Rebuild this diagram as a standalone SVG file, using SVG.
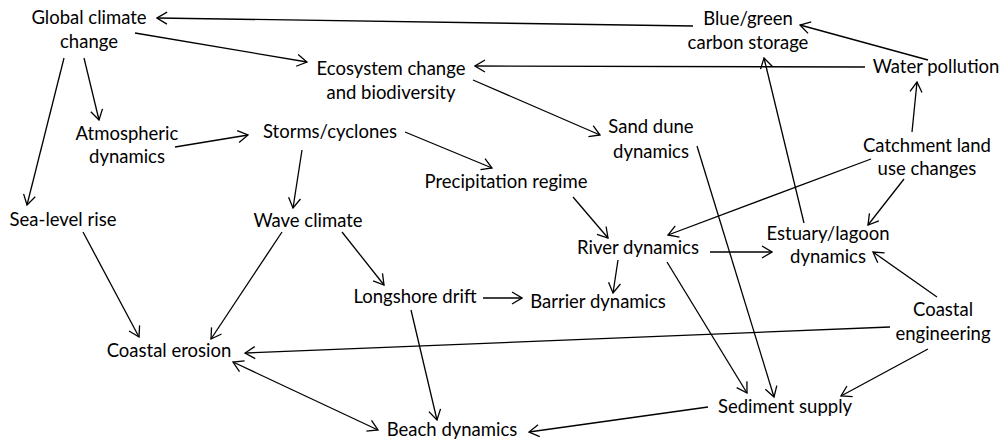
<svg xmlns="http://www.w3.org/2000/svg" width="1006" height="442" viewBox="0 0 1006 442">
<style>
text{font-family:"Lato","Liberation Sans",sans-serif;font-size:18.5px;fill:#000;text-anchor:middle}
.c line{stroke:#000;stroke-width:1.3;fill:none;marker-end:url(#ah)}
.c line.bi{marker-start:url(#ah)}
</style>
<defs>
<marker id="ah" viewBox="0 0 12 14" refX="11" refY="7" markerWidth="12" markerHeight="14" markerUnits="userSpaceOnUse" orient="auto-start-reverse">
<path d="M1,1 L11,7 L1,13" fill="none" stroke="#000" stroke-width="1.3"/>
</marker>
</defs>
<rect width="1006" height="442" fill="#fff"/>
<g class="c" id="connectors">
<line x1="693" y1="26" x2="157" y2="18"/>
<line x1="135" y1="33" x2="307" y2="62"/>
<line x1="84" y1="58" x2="99" y2="120"/>
<line x1="64" y1="58" x2="27" y2="205"/>
<line x1="175" y1="147" x2="248" y2="135"/>
<line x1="302" y1="150" x2="293" y2="208"/>
<line x1="405" y1="132" x2="492" y2="168"/>
<line x1="473" y1="80" x2="600" y2="135"/>
<line x1="865" y1="67" x2="475" y2="66"/>
<line x1="928" y1="60" x2="800" y2="25"/>
<line x1="912" y1="132" x2="917" y2="82"/>
<line x1="804" y1="223" x2="764" y2="58"/>
<line x1="697" y1="146" x2="774" y2="397"/>
<line x1="667" y1="262" x2="747" y2="393"/>
<line x1="871" y1="159" x2="668" y2="235"/>
<line x1="904" y1="179" x2="868" y2="225"/>
<line x1="710" y1="252" x2="772" y2="252"/>
<line x1="937" y1="297" x2="873" y2="252"/>
<line x1="573" y1="197" x2="608" y2="238"/>
<line x1="618" y1="260" x2="613" y2="293"/>
<line x1="483" y1="298" x2="522" y2="298"/>
<line x1="342" y1="232" x2="384" y2="285"/>
<line x1="282" y1="232" x2="211" y2="339"/>
<line x1="83" y1="232" x2="139" y2="337"/>
<line x1="890" y1="327" x2="245" y2="353"/>
<line class="bi" x1="233" y1="362" x2="378" y2="430"/>
<line x1="411" y1="310" x2="437" y2="420"/>
<line x1="708" y1="407" x2="529" y2="432"/>
<line x1="928" y1="349" x2="841" y2="396"/>
</g>
<g id="global-climate-change"><text x="89" y="24">Global climate</text><text x="89" y="48">change</text></g>
<g id="ecosystem-change"><text x="391" y="75">Ecosystem change</text><text x="391" y="99">and biodiversity</text></g>
<g id="blue-green-carbon"><text x="748" y="25">Blue/green</text><text x="748" y="49">carbon storage</text></g>
<g id="water-pollution"><text x="936" y="73">Water pollution</text></g>
<g id="catchment"><text x="927" y="152">Catchment land</text><text x="927" y="175">use changes</text></g>
<g id="atmospheric"><text x="127" y="140">Atmospheric</text><text x="127" y="163">dynamics</text></g>
<g id="storms"><text x="330" y="138">Storms/cyclones</text></g>
<g id="sand-dune"><text x="651" y="133">Sand dune</text><text x="651" y="158">dynamics</text></g>
<g id="precipitation"><text x="506" y="188">Precipitation regime</text></g>
<g id="sea-level"><text x="63" y="226">Sea-level rise</text></g>
<g id="wave-climate"><text x="308" y="227">Wave climate</text></g>
<g id="river"><text x="638" y="254">River dynamics</text></g>
<g id="estuary"><text x="828" y="240">Estuary/lagoon</text><text x="828" y="263">dynamics</text></g>
<g id="longshore"><text x="415" y="303">Longshore drift</text></g>
<g id="barrier"><text x="598" y="308">Barrier dynamics</text></g>
<g id="coastal-engineering"><text x="943" y="316">Coastal</text><text x="943" y="340">engineering</text></g>
<g id="coastal-erosion"><text x="169" y="357">Coastal erosion</text></g>
<g id="sediment"><text x="785" y="413">Sediment supply</text></g>
<g id="beach"><text x="452" y="436">Beach dynamics</text></g>
</svg>
